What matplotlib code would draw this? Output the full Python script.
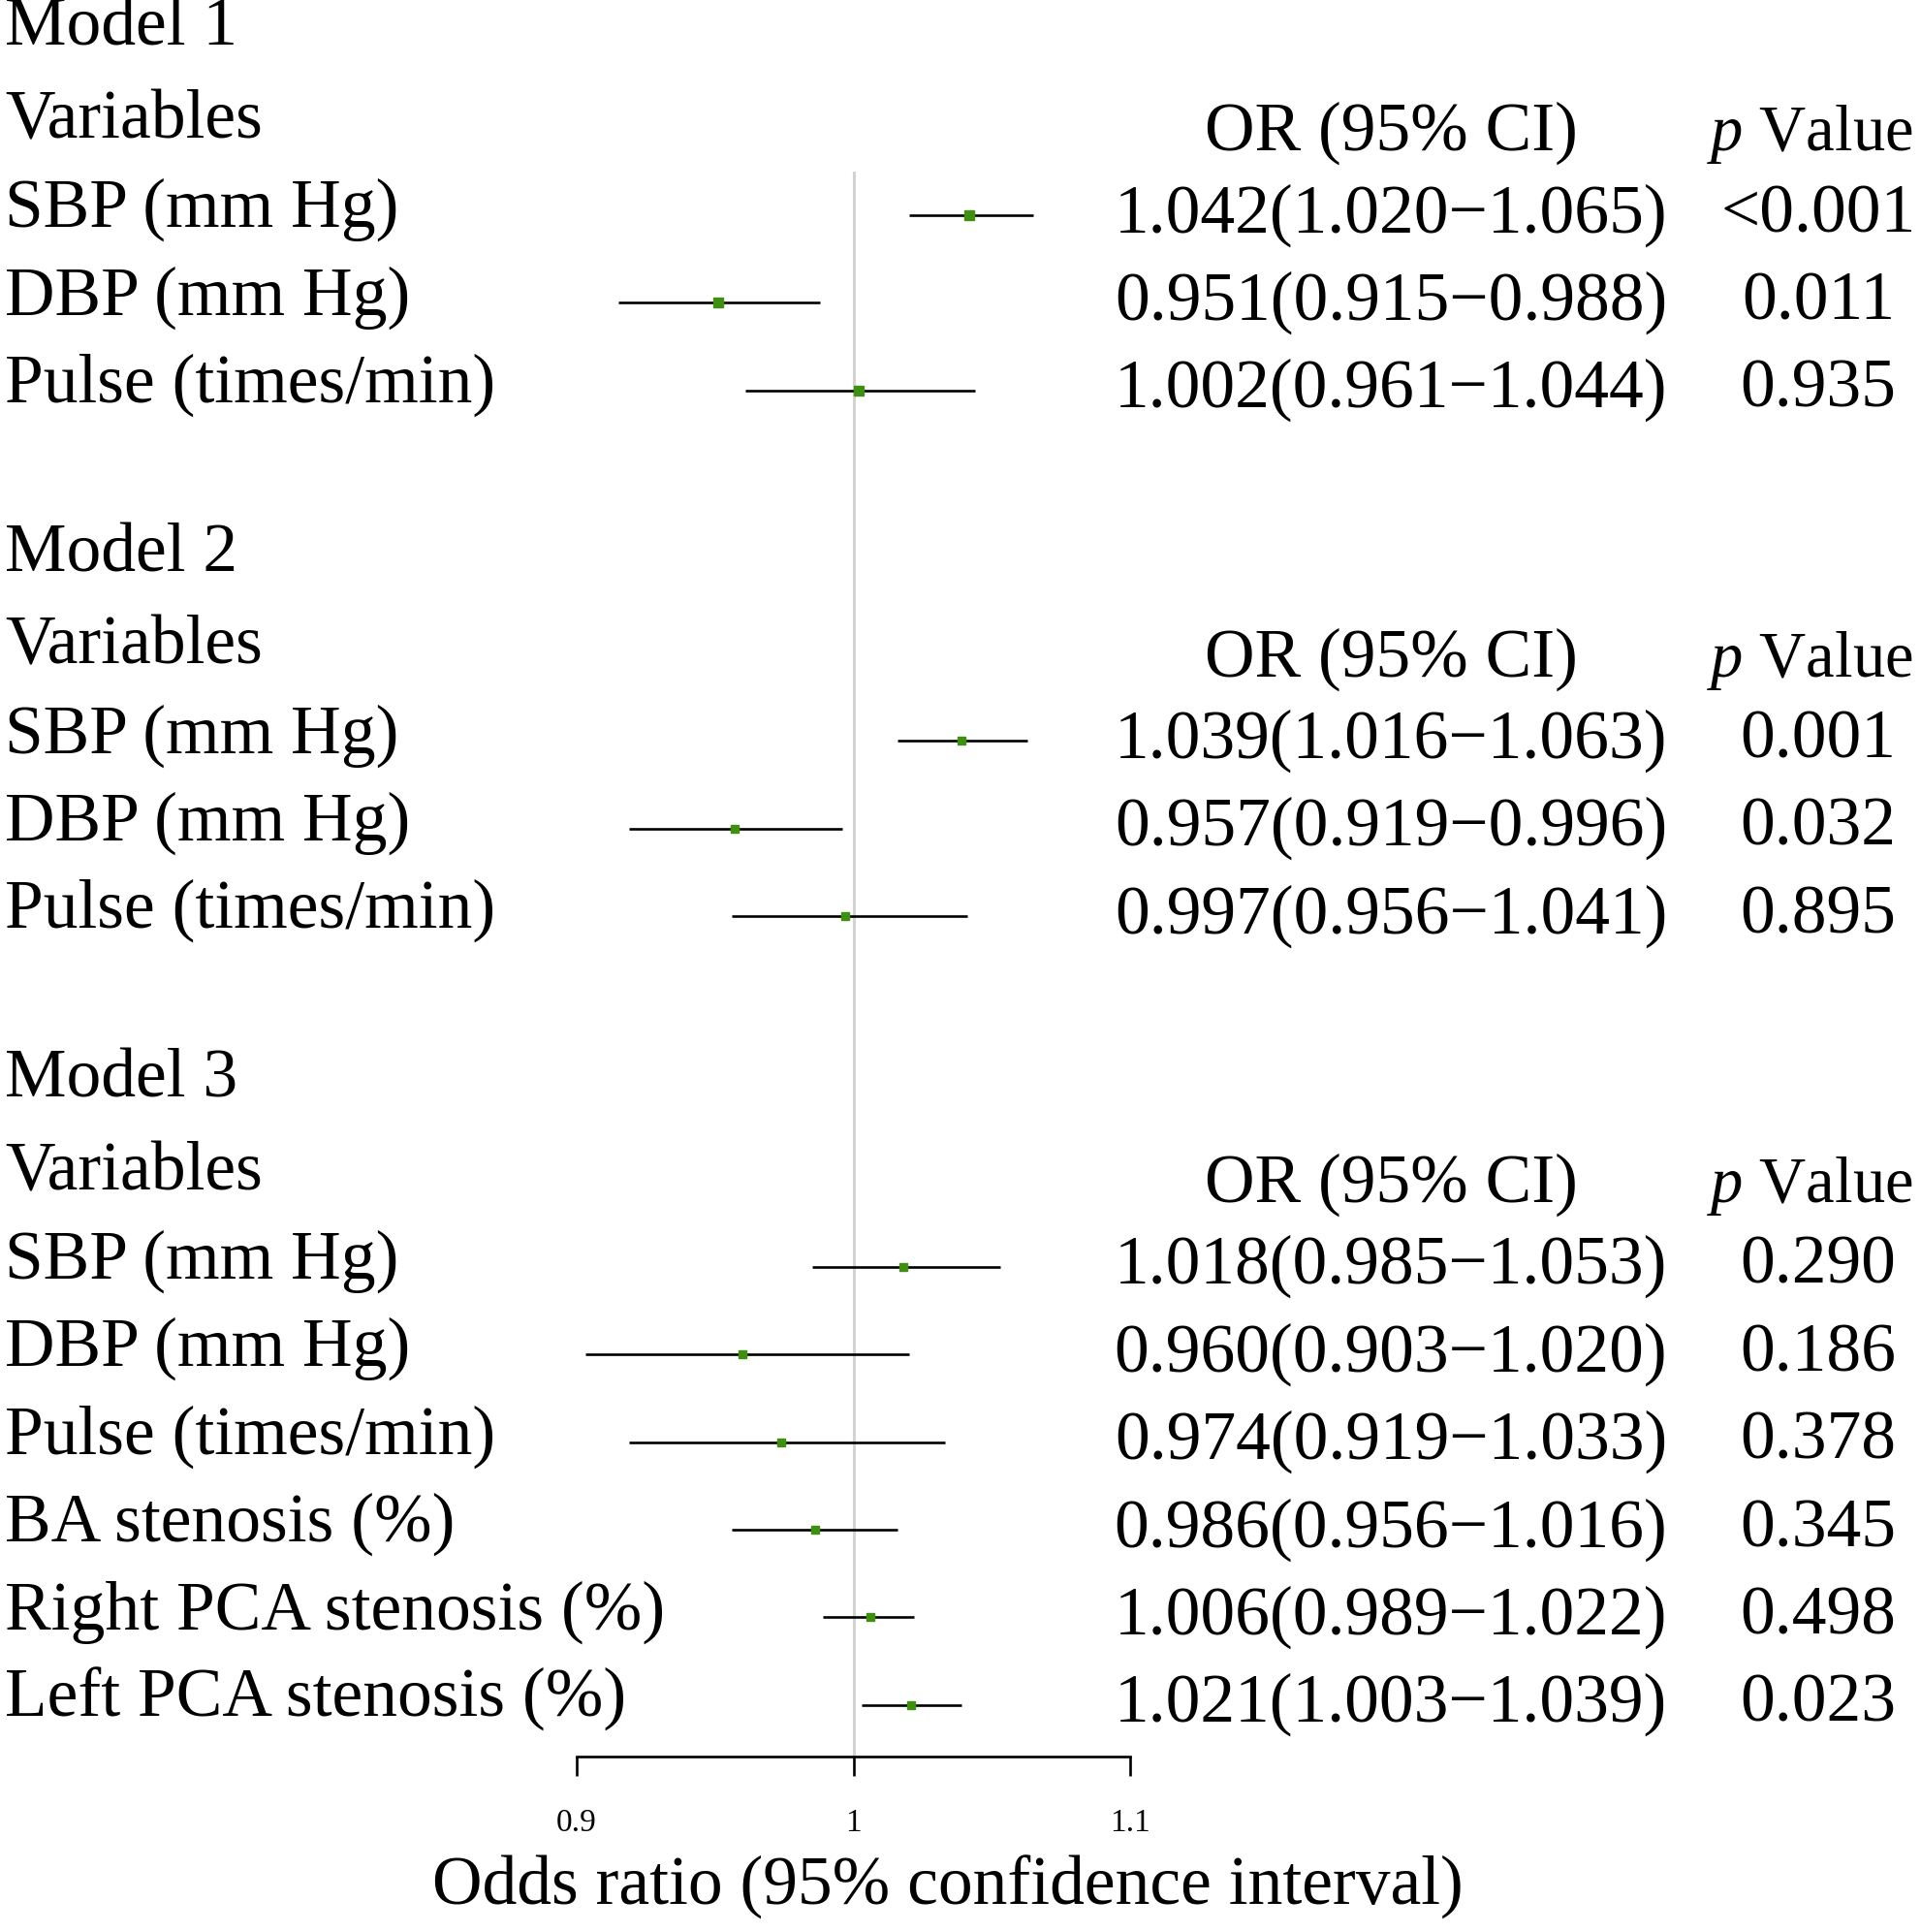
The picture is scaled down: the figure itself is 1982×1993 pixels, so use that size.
import matplotlib
matplotlib.use("Agg")
import matplotlib.pyplot as plt
from matplotlib.transforms import blended_transform_factory

# ---------------- data ----------------
model_titles = ["Model 1", "Model 2", "Model 3"]
variables_m1 = ["SBP (mm Hg)", "DBP (mm Hg)", "Pulse (times/min)"]
variables_m2 = ["SBP (mm Hg)", "DBP (mm Hg)", "Pulse (times/min)"]
variables_m3 = ["SBP (mm Hg)", "DBP (mm Hg)", "Pulse (times/min)",
                "BA stenosis (%)", "Right PCA stenosis (%)", "Left PCA stenosis (%)"]

or_m1 = [1.042, 0.951, 1.002]
lo_m1 = [1.020, 0.915, 0.961]
hi_m1 = [1.065, 0.988, 1.044]
p_m1 = ["<0.001", "0.011", "0.935"]

or_m2 = [1.039, 0.957, 0.997]
lo_m2 = [1.016, 0.919, 0.956]
hi_m2 = [1.063, 0.996, 1.041]
p_m2 = ["0.001", "0.032", "0.895"]

or_m3 = [1.018, 0.960, 0.974, 0.986, 1.006, 1.021]
lo_m3 = [0.985, 0.903, 0.919, 0.956, 0.989, 1.003]
hi_m3 = [1.053, 1.020, 1.033, 1.016, 1.022, 1.039]
p_m3 = ["0.290", "0.186", "0.378", "0.345", "0.498", "0.023"]

x_ticks = [0.9, 1.0, 1.1]
x_tick_labels = ["0.9", "1", "1.1"]
x_label = "Odds ratio (95% confidence interval)"
col_header_or = "OR (95% CI)"
col_header_p = r"$\mathit{p}$ Value"
var_header = "Variables"

# ---------------- style ----------------
plt.rcParams["font.family"] = ["Liberation Serif", "DejaVu Serif"]
plt.rcParams["mathtext.fontset"] = "custom"
plt.rcParams["mathtext.rm"] = "Liberation Serif"
plt.rcParams["mathtext.it"] = "Liberation Serif:italic"

W, H = 1983, 1993
fig = plt.figure(figsize=(W / 100, H / 100), dpi=100)

# axes: x from 0.9 (595px) to 1.1 (1166px); spine at y=1812px; top at 177px
ax_left, ax_right = 595, 1166
ax_top, ax_bot = 177, 1812
ax = fig.add_axes([ax_left / W, 1 - ax_bot / H, (ax_right - ax_left) / W, (ax_bot - ax_top) / H])
ax.set_xlim(0.9, 1.1)
row_px = 90.4
def px_to_row(p):
    return 2 + (p - 222) / row_px
ax.set_ylim(px_to_row(ax_bot), px_to_row(ax_top))

for s in ["top", "left", "right"]:
    ax.spines[s].set_visible(False)
ax.spines["bottom"].set_bounds(0.9, 1.1)
ax.spines["bottom"].set_linewidth(1.9)
ax.set_yticks([])
ax.set_xticks(x_ticks)
ax.set_xticklabels(x_tick_labels, fontsize=24)
ax.tick_params(axis="x", direction="out", length=14.4, width=1.9, pad=24)
ax.patch.set_alpha(0)

ax.axvline(1.0, color="#d3d3d3", lw=2.2, zorder=0)

green = "#3f8f10"
fs = 51.5
xl = 5 / W
x_or = 1435 / W
x_p = 1876 / W
x_p_head_right = 1974 / W
tr = blended_transform_factory(fig.transFigure, ax.transData)

models = [
    (model_titles[0], variables_m1, or_m1, lo_m1, hi_m1, p_m1, 0, 7.4),
    (model_titles[1], variables_m2, or_m2, lo_m2, hi_m2, p_m2, 6, 6.3),
    (model_titles[2], variables_m3, or_m3, lo_m3, hi_m3, p_m3, 12, 6.3),
]
for title, vars_, ors, los, his, ps, r0, ms in models:
    fig.text(xl, r0 + 0.06, title, transform=tr, fontsize=fs, ha="left", va="baseline")
    fig.text(xl, r0 + 1 + 0.12, var_header, transform=tr, fontsize=fs, ha="left", va="baseline")
    fig.text(x_or, r0 + 1 + 0.26, col_header_or, transform=tr, fontsize=fs, ha="center", va="baseline")
    fig.text(x_p_head_right, r0 + 1 + 0.26, col_header_p, transform=tr, fontsize=48,
             ha="right", va="baseline")
    rows = [r0 + 2 + i for i in range(len(vars_))]
    ax.hlines(rows, los, his, color="black", lw=1.9, zorder=2)
    ax.plot(ors, rows, ls="none", marker="s", ms=ms, color=green, mec=green, zorder=3)
    for r, v, o, lo, hi, p in zip(rows, vars_, ors, los, his, ps):
        fig.text(xl, r + 0.13, v, transform=tr, fontsize=fs, ha="left", va="baseline")
        fig.text(x_or, r + 0.19, f"{o:.3f}({lo:.3f}\u2212{hi:.3f})", transform=tr,
                 fontsize=fs, ha="center", va="baseline")
        fig.text(x_p, r + 0.19, p, transform=tr, fontsize=fs, ha="center", va="baseline")

fig.text(978 / W, 1 - 1965 / H, x_label, fontsize=fs, ha="center", va="baseline")

fig.savefig("out.png", dpi=100, facecolor="white")
